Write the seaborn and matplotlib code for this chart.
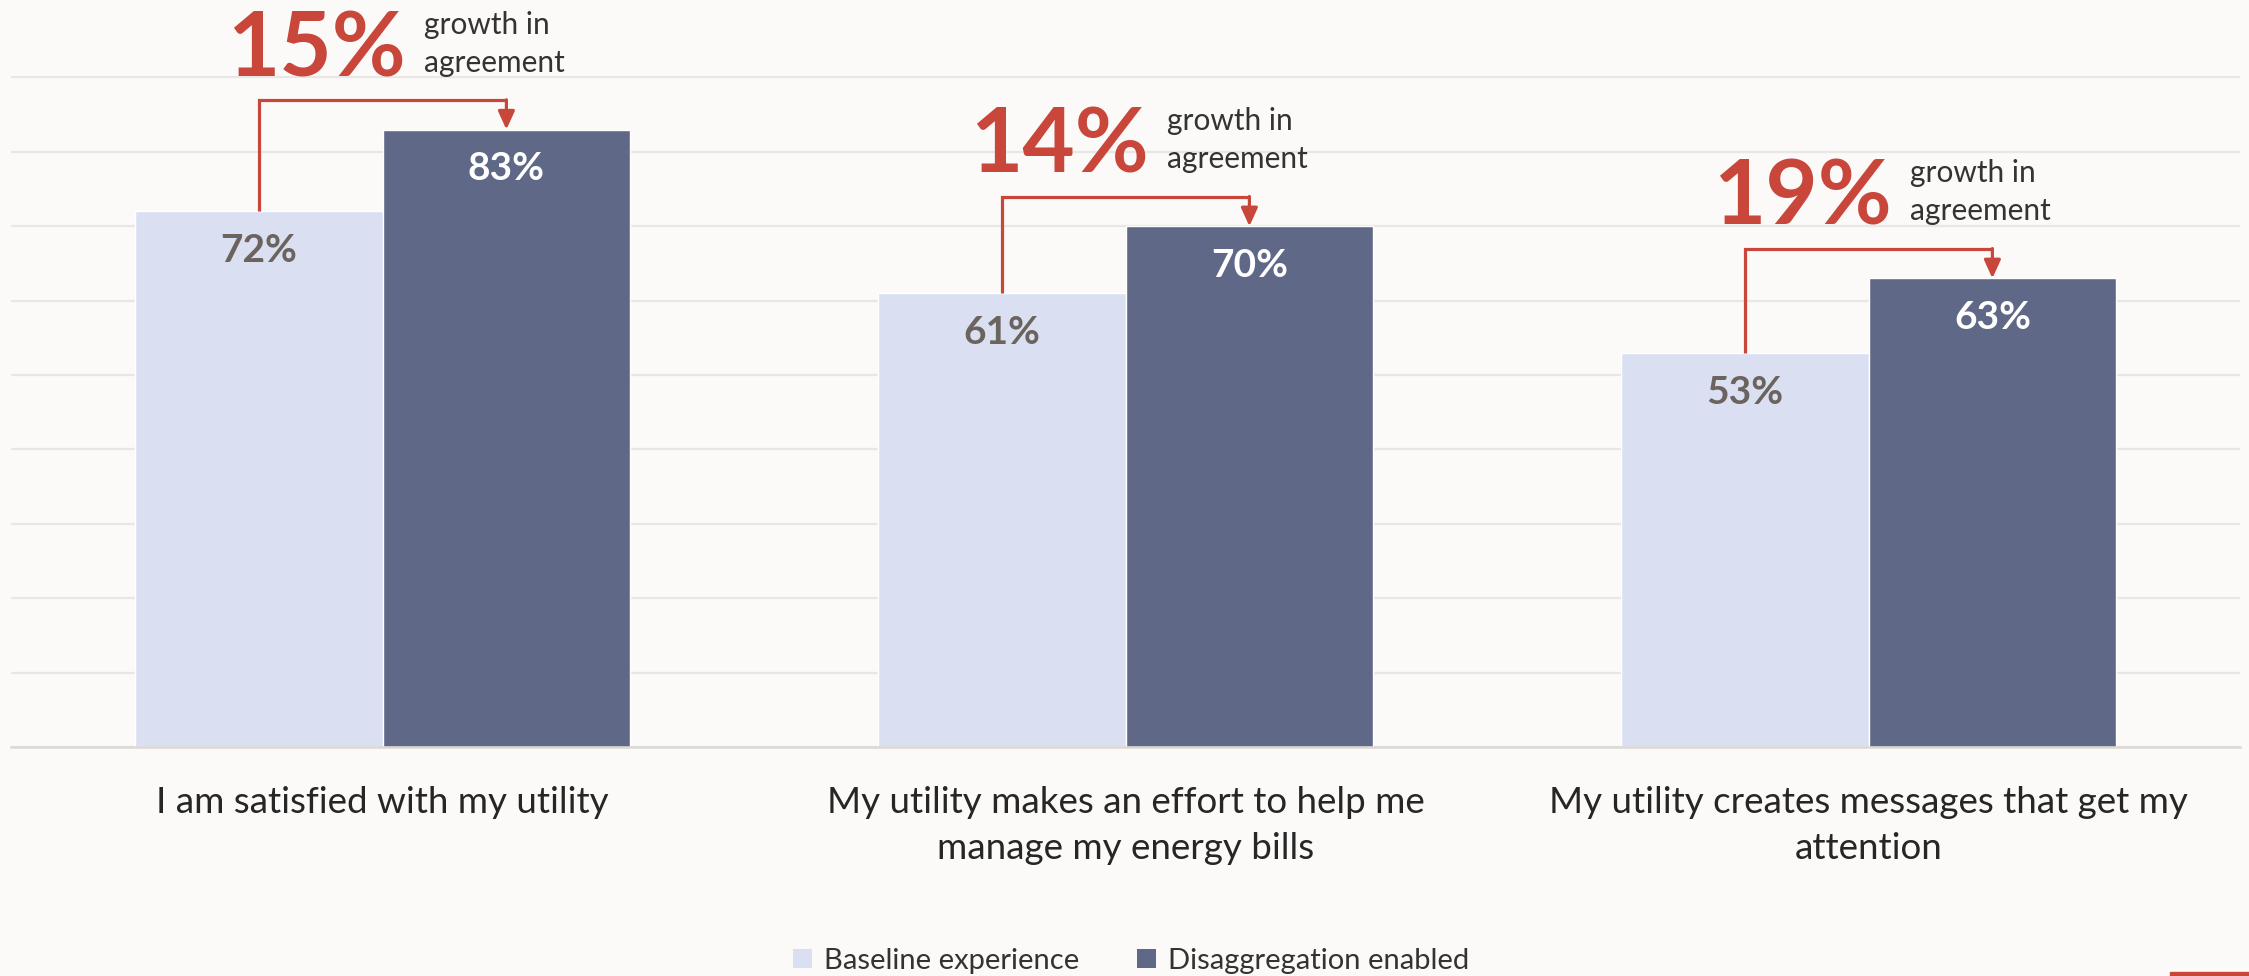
import matplotlib
matplotlib.use("Agg")
import matplotlib.pyplot as plt
import matplotlib.patches as mpatches
import numpy as np
import pandas as pd
import seaborn as sns

# Survey statements and share agreeing, by experience group
questions = [
    "I am satisfied with my utility",
    "My utility makes an effort to help me\nmanage my energy bills",
    "My utility creates messages that get my\nattention",
]
groups = ["Baseline experience", "Disaggregation enabled"]
baseline = [0.72, 0.61, 0.53]
enabled = [0.83, 0.70, 0.63]
growth_labels = ["15%", "14%", "19%"]

BG = "#FBFAF8"
LIGHT = "#DAE0F2"
DARK = "#5F6886"
RED = "#C8463A"
LABEL_GRAY = "#6B635E"
TEXT = "#262626"

sns.set_theme(style="white")
plt.rcParams["font.family"] = ["Lato", "DejaVu Sans"]

df = pd.DataFrame({
    "question": questions * 2,
    "group": [groups[0]] * 3 + [groups[1]] * 3,
    "value": baseline + enabled,
})

fig = plt.figure(figsize=(22.49, 9.76), dpi=100, facecolor=BG)
ax = fig.add_axes([11 / 2249, 1 - 747 / 976, (2240 - 11) / 2249, (747 - 76) / 976])
ax.set_facecolor(BG)

sns.barplot(data=df, x="question", y="value", hue="group", order=questions,
            hue_order=groups, palette=[LIGHT, DARK], saturation=1,
            width=0.667, gap=0, errorbar=None, ax=ax, legend=False)

ax.set_xlim(-0.5, 2.5)
ax.set_ylim(0, 0.902)
ax.set_yticks(np.arange(0, 0.91, 0.1))
ax.set_yticklabels([])
ax.yaxis.grid(True, color="#E8E7E5", lw=1.6)
ax.set_axisbelow(True)
for s in ["top", "right", "left"]:
    ax.spines[s].set_visible(False)
ax.spines["bottom"].set_color("#DCD8D4")
ax.spines["bottom"].set_linewidth(1.8)
ax.tick_params(axis="both", length=0)
ax.tick_params(axis="x", pad=28)
ax.set_xlabel("")
ax.set_ylabel("")
ax.set_xticks(range(len(questions)))
ax.set_xticklabels(questions, fontsize=26.5, color=TEXT)
for lab in ax.get_xticklabels():
    lab.set_linespacing(1.5)

light_bars, dark_bars = ax.containers[0], ax.containers[1]

# value labels inside the bars
for bars, vals, col in [(light_bars, baseline, LABEL_GRAY), (dark_bars, enabled, "white")]:
    for p, v in zip(bars.patches, vals):
        ax.text(p.get_x() + p.get_width() / 2, v - 0.053, f"{round(v * 100)}%",
                ha="center", va="center", fontsize=28, fontweight="bold", color=col)

# growth brackets and callouts
for pl, pd_, b, e, g in zip(light_bars.patches, dark_bars.patches, baseline, enabled, growth_labels):
    x0 = pl.get_x() + pl.get_width() / 2
    x1 = pd_.get_x() + pd_.get_width() / 2
    ytop = e + 0.04
    ax.plot([x0, x0, x1], [b, ytop, ytop], color=RED, lw=2.3,
            solid_joinstyle="miter", solid_capstyle="butt", clip_on=False)
    ax.annotate("", xy=(x1, e), xytext=(x1, ytop),
                arrowprops=dict(arrowstyle="-|>,head_length=0.55,head_width=0.25",
                                color=RED, lw=2.3, shrinkA=0, shrinkB=0,
                                mutation_scale=20), annotation_clip=False)
    ax.text(x0 - 0.043, e + 0.072, g, ha="left", va="baseline", fontsize=65,
            fontweight="bold", color=RED, clip_on=False)
    ax.text(x0 + 0.223, e + 0.072 + 0.057, "growth in", ha="left", va="baseline",
            fontsize=21.5, color="#333333", clip_on=False)
    ax.text(x0 + 0.223, e + 0.072 + 0.006, "agreement", ha="left", va="baseline",
            fontsize=21.5, color="#333333", clip_on=False)

handles = [mpatches.Patch(facecolor=LIGHT, edgecolor="none"),
           mpatches.Patch(facecolor=DARK, edgecolor="none")]
fig.legend(handles, groups, loc="center", bbox_to_anchor=(0.503, 1 - 961 / 976),
           ncol=2, frameon=False, fontsize=21, handlelength=0.65, handleheight=0.65,
           handletextpad=0.4, columnspacing=2.0, labelcolor="#333333")

# accent strip at the lower right edge
fig.patches.append(mpatches.Rectangle((2170 / 2249, 0), 79 / 2249, 4 / 976,
                                      transform=fig.transFigure, color=RED, zorder=5))

fig.savefig("out.png", dpi=100, facecolor=BG)
